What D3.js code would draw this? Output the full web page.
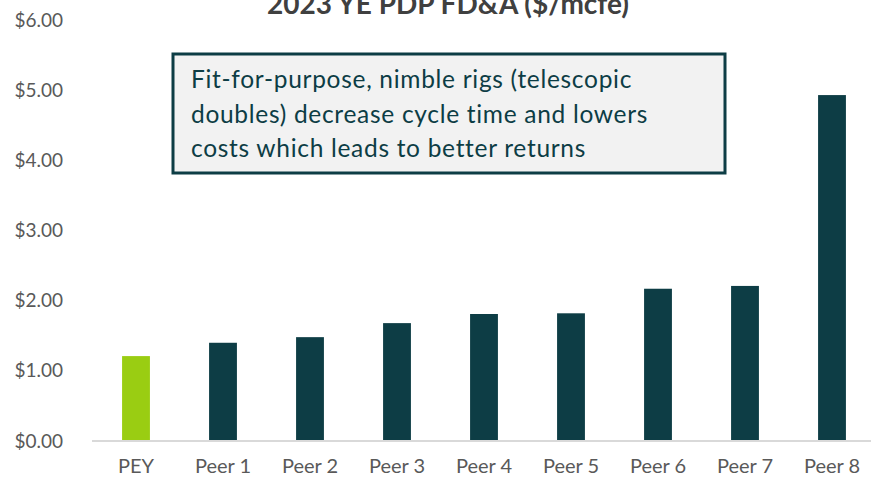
<!DOCTYPE html>
<html>
<head>
<meta charset="utf-8">
<script src="https://cdn.jsdelivr.net/npm/d3@7"></script>
<style>
  body { margin: 0; background: #fff; }
  text { font-family: Lato, "Open Sans", sans-serif; }
</style>
</head>
<body>
<div id="chart"></div>
<script>

var categories = ["PEY", "Peer 1", "Peer 2", "Peer 3", "Peer 4", "Peer 5", "Peer 6", "Peer 7", "Peer 8"];
var values = [1.21, 1.40, 1.48, 1.68, 1.81, 1.82, 2.17, 2.21, 4.93];
var yTicks = [0, 1, 2, 3, 4, 5, 6];
var title = "2023 YE PDP FD&A ($/mcfe)";
var noteLines = ["Fit-for-purpose, nimble rigs (telescopic",
                 "doubles) decrease cycle time and lowers",
                 "costs which leads to better returns"];

var width = 871,
    height = 482,
    teal = "#0d3d45",
    green = "#9acd12",
    grey = "#595959";

var svg = d3.select("#chart").append("svg")
    .attr("width", width)
    .attr("height", height);

var x = d3.scaleBand()
    .domain(categories)
    .range([92.5, 875.5])
    .paddingInner(0.68)
    .paddingOuter(0.34);

var y = d3.scaleLinear()
    .domain([0, 6])
    .range([441, 20]);

// y tick labels
svg.selectAll(".yLabel")
    .data(yTicks)
    .enter()
    .append("text")
    .attr("class", "yLabel")
    .attr("x", 63)
    .attr("y", function (d) { return y(d); })
    .attr("dy", "0.35em")
    .style("text-anchor", "end")
    .style("font-size", "19px")
    .attr("fill", grey)
    .text(function (d) { return "$" + d.toFixed(2); });

// bars
svg.selectAll("rect.bar")
    .data(values)
    .enter()
    .append("rect")
    .attr("class", "bar")
    .attr("x", function (d, i) { return x(categories[i]); })
    .attr("y", function (d) { return y(d); })
    .attr("width", x.bandwidth())
    .attr("height", function (d) { return y(0) - y(d); })
    .attr("fill", function (d, i) { return i === 0 ? green : teal; });

// baseline
svg.append("line")
    .attr("x1", 92)
    .attr("x2", width)
    .attr("y1", y(0))
    .attr("y2", y(0))
    .attr("stroke", "#d9d9d9")
    .attr("stroke-width", 2);

// x labels
svg.selectAll(".xLabel")
    .data(categories)
    .enter()
    .append("text")
    .attr("class", "xLabel")
    .attr("x", function (d) { return x(d) + x.bandwidth() / 2; })
    .attr("y", 473)
    .style("text-anchor", "middle")
    .style("font-size", "20px")
    .attr("fill", grey)
    .text(function (d) { return d; });

// title, top is cut off in the original too
svg.append("text")
    .attr("x", 448)
    .attr("y", 14)
    .style("text-anchor", "middle")
    .style("font-size", "28px")
    .style("font-weight", "bold")
    .attr("fill", "#404040")
    .text(title);

// annotation box
svg.append("rect")
    .attr("x", 173)
    .attr("y", 54)
    .attr("width", 552)
    .attr("height", 119)
    .attr("fill", "#f2f2f2")
    .attr("stroke", teal)
    .attr("stroke-width", 3);

svg.selectAll(".note")
    .data(noteLines)
    .enter()
    .append("text")
    .attr("class", "note")
    .attr("x", 191)
    .attr("y", function (d, i) { return 88 + i * 34.5; })
    .style("font-size", "24.5px")
    .style("letter-spacing", "0.7px")
    .attr("fill", teal)
    .text(function (d) { return d; });

</script>
</body>
</html>
